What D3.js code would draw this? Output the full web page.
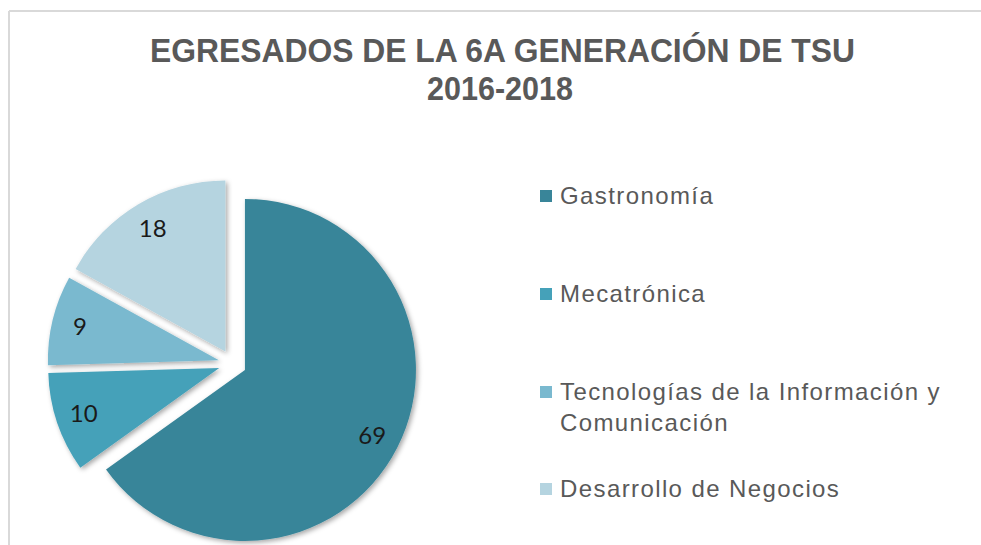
<!DOCTYPE html>
<html>
<head>
<meta charset="utf-8">
<script src="https://cdn.jsdelivr.net/npm/d3@7"></script>
<style>
  body { margin: 0; background: #fff; }
  svg { display: block; }
</style>
</head>
<body>
<div id="chart"></div>
<script>
// data
const categories = ['Gastronomía', 'Mecatrónica', 'Tecnologías de la Información y Comunicación', 'Desarrollo de Negocios'];
const values = [69, 10, 9, 18];
const legendLines = [['Gastronomía'], ['Mecatrónica'], ['Tecnologías de la Información y', 'Comunicación'], ['Desarrollo de Negocios']];
const colors = ['#398599', '#45a1b9', '#7ab9cf', '#b5d4e0'];
const titleLines = ['EGRESADOS DE LA 6A GENERACIÓN DE TSU', '2016-2018'];

const width = 981, height = 545;
const cx = 232.5, cy = 363.5, radius = 171, explode = 14;

const svg = d3.select('#chart').append('svg')
    .attr('width', width)
    .attr('height', height);

// drop shadow for slices
const defs = svg.append('defs');
const filter = defs.append('filter')
    .attr('id', 'shadow')
    .attr('x', '-20%').attr('y', '-20%')
    .attr('width', '140%').attr('height', '140%');
filter.append('feDropShadow')
    .attr('dx', 2).attr('dy', 2)
    .attr('stdDeviation', 2.5)
    .attr('flood-color', '#000')
    .attr('flood-opacity', 0.35);

// chart frame (top and left edges visible)
svg.append('line')
    .attr('x1', 9).attr('x2', width).attr('y1', 11).attr('y2', 11)
    .style('stroke', '#d9d9d9').style('stroke-width', 2);
svg.append('line')
    .attr('x1', 9).attr('x2', 9).attr('y1', 11).attr('y2', height)
    .style('stroke', '#d9d9d9').style('stroke-width', 2);

// title
const title = svg.append('g')
    .style('font-family', '"Liberation Sans", Arial, sans-serif')
    .style('font-weight', 'bold')
    .style('font-size', '32.5px')
    .style('fill', '#595959')
    .attr('text-anchor', 'middle');
title.append('text')
    .attr('x', 502.5).attr('y', 61.5)
    .attr('textLength', 705)
    .attr('lengthAdjust', 'spacingAndGlyphs')
    .text(titleLines[0]);
title.append('text')
    .attr('x', 500).attr('y', 100)
    .attr('textLength', 146)
    .attr('lengthAdjust', 'spacingAndGlyphs')
    .text(titleLines[1]);

// pie
const pie = d3.pie().sort(null).value(d => d)
    .startAngle(0).endAngle(2 * Math.PI);
const arcs = pie(values);
const arc = d3.arc().innerRadius(0).outerRadius(radius);
const labelArc = d3.arc().innerRadius(143).outerRadius(143);

const shift = d => {
    const a = (d.startAngle + d.endAngle) / 2;
    return [explode * Math.sin(a), -explode * Math.cos(a)];
};

const slices = svg.append('g')
    .attr('transform', `translate(${cx},${cy})`);

slices.selectAll('path')
    .data(arcs)
    .join('path')
    .attr('transform', d => `translate(${shift(d)})`)
    .attr('d', arc)
    .style('fill', (d, i) => colors[i])
    .style('filter', 'url(#shadow)');

slices.selectAll('text')
    .data(arcs)
    .join('text')
    .attr('transform', d => {
        const s = shift(d), c = labelArc.centroid(d);
        return `translate(${c[0] + s[0]},${c[1] + s[1]})`;
    })
    .attr('text-anchor', 'middle')
    .attr('dy', '0.36em')
    .style('font-family', 'Lato, "Noto Sans", sans-serif')
    .style('font-size', '24px')
    .style('fill', '#1a1a1a')
    .text(d => d.data);

// legend
const legendY = [204, 302, 400, 497];
const legend = svg.append('g')
    .style('font-family', '"Liberation Sans", Arial, sans-serif')
    .style('font-size', '24px')
    .style('letter-spacing', '1.4px')
    .style('fill', '#595959');

const items = legend.selectAll('g')
    .data(categories)
    .join('g')
    .attr('transform', (d, i) => `translate(540,${legendY[i]})`);

items.append('rect')
    .attr('x', 0).attr('y', -14)
    .attr('width', 12).attr('height', 12)
    .style('fill', (d, i) => colors[i]);

items.append('text')
    .attr('x', 20)
    .selectAll('tspan')
    .data((d, i) => legendLines[i])
    .join('tspan')
    .attr('x', 20)
    .attr('y', (d, j) => j * 30.5)
    .text(d => d);
</script>
</body>
</html>
